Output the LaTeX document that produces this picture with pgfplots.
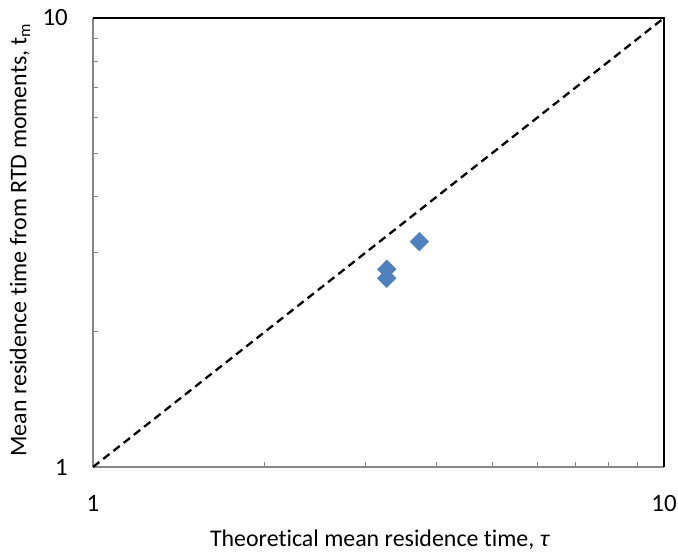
\documentclass[border=0pt]{standalone}
\usepackage{pgfplots}
\pgfplotsset{compat=1.18}
\usepackage{fontspec}
\setmainfont{Carlito}[Ligatures=NoCommon]
\definecolor{mblue}{RGB}{79,129,189}
\definecolor{agray}{RGB}{134,134,134}
\begin{document}
\begin{tikzpicture}
\begin{axis}[
  scale only axis,
  width=571bp, height=449bp,
  xmode=log, ymode=log,
  xmin=1, xmax=10, ymin=1, ymax=10,
  axis x line*=bottom, axis y line*=left,
  axis line style={agray, line width=1.2bp},
  tick align=inside,
  tick style={agray, line width=1bp},
  major tick length=0bp,
  minor tick length=5bp,
  xtick={1,10}, ytick={1,10},
  log ticks with fixed point,
  /pgf/number format/assume math mode=true,
  xticklabel style={font=\fontsize{25}{30}\selectfont, anchor=base, inner sep=0pt, yshift=-44bp},
  yticklabel style={font=\fontsize{25}{30}\selectfont, anchor=east, inner sep=0pt, xshift=-25bp},
  xlabel={Theoretical mean residence time, \textit{τ}},
  ylabel={Mean residence time from RTD moments, t\textsubscript{m}},
  every axis x label/.style={at={(axis description cs:0.5026,-0.1626)}, anchor=center, font=\fontsize{24}{28}\selectfont},
  every axis y label/.style={at={(axis description cs:-0.1278,0.5056)}, anchor=center, rotate=90, font=\fontsize{24}{28}\selectfont},
  clip=false,
]
\draw[black, line width=1.3bp] (rel axis cs:0,1) -- (rel axis cs:1,1) -- (rel axis cs:1,0);
\addplot[black, line width=2.3bp, dash pattern=on 8bp off 5bp] coordinates {(1,1) (10,10)};
\addplot[only marks, mark=square*, mark size=6.6bp, mark options={rotate=45, fill=mblue, draw=mblue}] coordinates {
(3.27,2.756) (3.27,2.632) (3.73,3.176)
};
\end{axis}
\useasboundingbox (-93bp,-89bp) rectangle (585bp,467bp);
\end{tikzpicture}
\end{document}
